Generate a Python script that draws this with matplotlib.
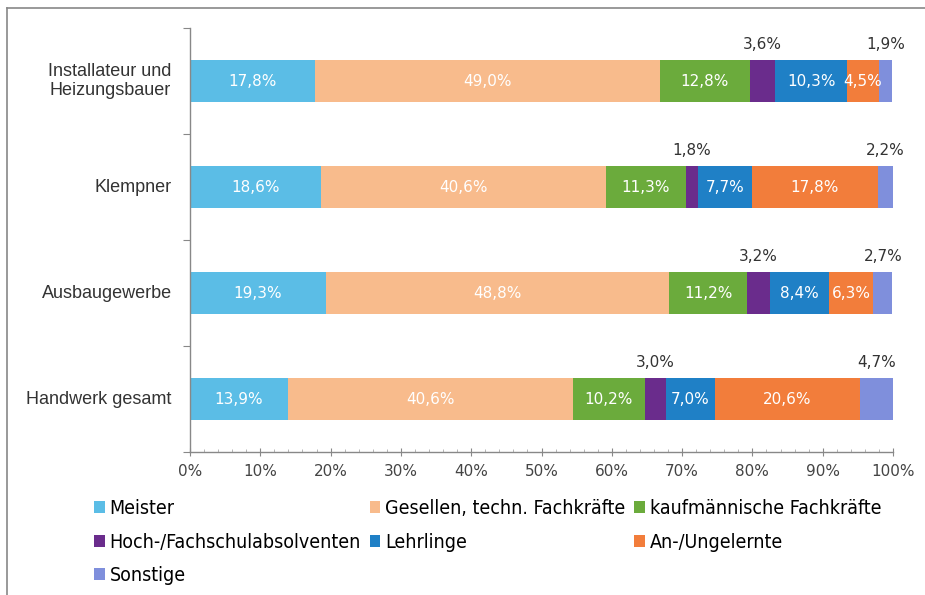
import numpy as np
import matplotlib
matplotlib.use("Agg")
import matplotlib.pyplot as plt
from matplotlib.patches import Patch
from matplotlib.lines import Line2D

# Data
categories = ["Installateur und\nHeizungsbauer", "Klempner", "Ausbaugewerbe", "Handwerk gesamt"]
groups = ["Meister", "Gesellen, techn. Fachkräfte", "kaufmännische Fachkräfte",
          "Hoch-/Fachschulabsolventen", "Lehrlinge", "An-/Ungelernte", "Sonstige"]
meister = [17.8, 18.6, 19.3, 13.9]
gesellen = [49.0, 40.6, 48.8, 40.6]
kaufm = [12.8, 11.3, 11.2, 10.2]
hochschule = [3.6, 1.8, 3.2, 3.0]
lehrlinge = [10.3, 7.7, 8.4, 7.0]
ungelernte = [4.5, 17.8, 6.3, 20.6]
sonstige = [1.9, 2.2, 2.7, 4.7]
series = [meister, gesellen, kaufm, hochschule, lehrlinge, ungelernte, sonstige]
colors = ["#5bbde6", "#f8bb8c", "#6bab3c", "#6a2c8c", "#1f80c6", "#f27d3b", "#7f8fdc"]
outside = [False, False, False, True, False, False, True]  # label above the bar

num_font = ["DejaVu Sans"]
txt_font = ["Liberation Sans", "DejaVu Sans"]

fig = plt.figure(figsize=(9.25, 5.95), dpi=100)
ax = fig.add_axes([190 / 925, 1 - 452 / 595, 703 / 925, 424 / 595])

y = np.arange(len(categories))
h = 0.4
left = np.zeros(len(categories))
for vals, col, out in zip(series, colors, outside):
    vals = np.array(vals)
    ax.barh(y, vals, left=left, height=h, color=col, edgecolor="none")
    for yi, l, v in zip(y, left, vals):
        lab = f"{v:.1f}".replace(".", ",") + "%"
        if out:
            ax.text(l + v / 2, yi - h / 2 - 0.07, lab, ha="center", va="bottom",
                    color="#333333", fontsize=11, family=num_font)
        else:
            ax.text(l + v / 2, yi, lab, ha="center", va="center",
                    color="white", fontsize=11, family=num_font)
    left += vals

ax.set_xlim(0, 100)
ax.set_ylim(3.5, -0.5)
ax.set_xticks(np.arange(0, 101, 10))
ax.set_xticklabels([f"{t}%" for t in range(0, 101, 10)], family=num_font,
                   fontsize=11, color="#444444")
ax.set_xticks(np.arange(0, 101, 2), minor=True)
ax.tick_params(axis="x", which="major", direction="inout", length=6, color="#888888", pad=6)
ax.tick_params(axis="x", which="minor", direction="in", length=2, color="#aaaaaa")

ax.set_yticks(np.arange(-0.5, 3.6, 1))
ax.set_yticklabels([])
ax.tick_params(axis="y", which="major", direction="out", length=5, color="#888888")
for yi, c in zip(y, categories):
    ax.text(-2.6, yi, c, ha="right", va="center", fontsize=13, color="#333333",
            family=txt_font, multialignment="center")

for s in ["top", "right"]:
    ax.spines[s].set_visible(False)
for s in ["left", "bottom"]:
    ax.spines[s].set_color("#888888")
    ax.spines[s].set_linewidth(1.0)

# legend, filled row by row
order = [0, 3, 6, 1, 4, 2, 5]
handles = [Patch(facecolor=colors[i], edgecolor="none") for i in order]
labels = [groups[i] for i in order]
fig.legend(handles, labels, loc="upper left", bbox_to_anchor=(94 / 925, 1 - 499 / 595),
           ncol=3, frameon=False, borderpad=0, borderaxespad=0, handlelength=0.55,
           handleheight=0.55, handletextpad=0.25, columnspacing=0.45, labelspacing=0.75,
           prop={"family": "DejaVu Sans", "stretch": "condensed", "size": 14})

# page frame
fig.add_artist(Line2D([7 / 925, 1], [1 - 8 / 595, 1 - 8 / 595], color="#888888", lw=1.2))
fig.add_artist(Line2D([7 / 925, 7 / 925], [0, 1 - 8 / 595], color="#888888", lw=1.2))

fig.savefig("out.png", dpi=100)
